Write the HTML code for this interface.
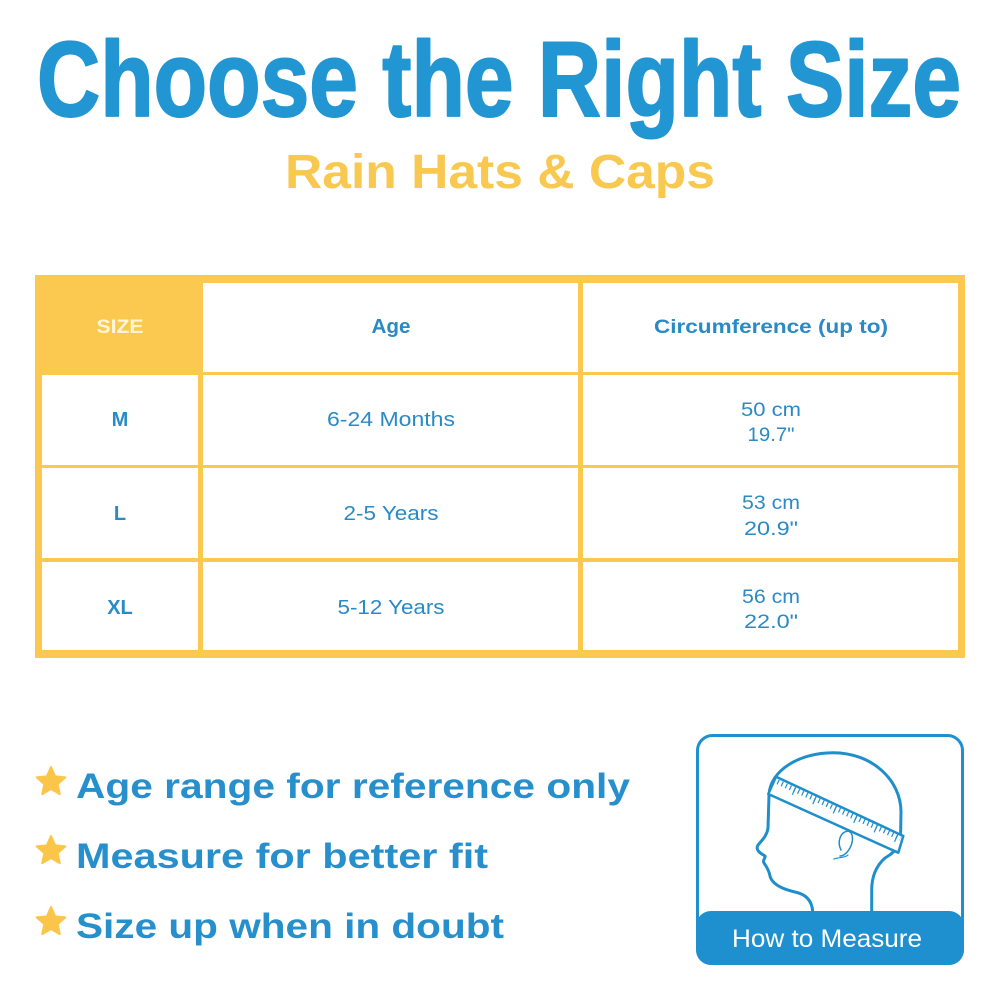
<!DOCTYPE html>
<html>
<head>
<meta charset="utf-8">
<style>
  html, body { margin: 0; padding: 0; background: #ffffff; }
  svg { display: block; }
</style>
</head>
<body>
<svg width="1000" height="1000" viewBox="0 0 1000 1000" xmlns="http://www.w3.org/2000/svg">
  <rect x="0" y="0" width="1000" height="1000" fill="#ffffff"/>

  <!-- Title -->
  <text x="37" y="116" font-family="Liberation Sans, sans-serif" font-weight="bold" font-size="107"
        fill="#2196D3" stroke="#2196D3" stroke-width="2" stroke-linejoin="round"
        textLength="924" lengthAdjust="spacingAndGlyphs">Choose the Right Size</text>

  <!-- Subtitle -->
  <text x="285" y="188" font-family="Liberation Sans, sans-serif" font-weight="bold" font-size="48"
        fill="#F9C850" textLength="430" lengthAdjust="spacingAndGlyphs">Rain Hats &amp; Caps</text>

  <!-- Table -->
  <rect x="35" y="275" width="930" height="383" fill="#FBC94F"/>
  <rect x="203" y="283" width="375" height="89" fill="#ffffff"/>
  <rect x="583" y="283" width="375" height="89" fill="#ffffff"/>
  <rect x="42" y="375" width="156" height="90" fill="#ffffff"/>
  <rect x="203" y="375" width="375" height="90" fill="#ffffff"/>
  <rect x="583" y="375" width="375" height="90" fill="#ffffff"/>
  <rect x="42" y="468" width="156" height="90" fill="#ffffff"/>
  <rect x="203" y="468" width="375" height="90" fill="#ffffff"/>
  <rect x="583" y="468" width="375" height="90" fill="#ffffff"/>
  <rect x="42" y="562" width="156" height="88" fill="#ffffff"/>
  <rect x="203" y="562" width="375" height="88" fill="#ffffff"/>
  <rect x="583" y="562" width="375" height="88" fill="#ffffff"/>

  <g font-family="Liberation Sans, sans-serif" text-anchor="middle">
    <text x="120" y="333" font-weight="bold" font-size="19" fill="#FFF6DA" textLength="47" lengthAdjust="spacingAndGlyphs">SIZE</text>
    <text x="391" y="333" font-weight="bold" font-size="20" fill="#2A8AC5" textLength="39" lengthAdjust="spacingAndGlyphs">Age</text>
    <text x="771" y="333" font-weight="bold" font-size="19" fill="#2A8AC5" textLength="234" lengthAdjust="spacingAndGlyphs">Circumference (up to)</text>

    <text x="120" y="426" font-weight="bold" font-size="20" fill="#2A8AC5">M</text>
    <text x="120" y="520" font-weight="bold" font-size="20" fill="#2A8AC5">L</text>
    <text x="120" y="614" font-weight="bold" font-size="20" fill="#2A8AC5">XL</text>

    <text x="391" y="426" font-size="20" fill="#2A8AC5" textLength="128" lengthAdjust="spacingAndGlyphs">6-24 Months</text>
    <text x="391" y="520" font-size="20" fill="#2A8AC5" textLength="95" lengthAdjust="spacingAndGlyphs">2-5 Years</text>
    <text x="391" y="614" font-size="20" fill="#2A8AC5" textLength="107" lengthAdjust="spacingAndGlyphs">5-12 Years</text>

    <text x="771" y="416" font-size="19" fill="#2A8AC5" textLength="60" lengthAdjust="spacingAndGlyphs">50 cm</text>
    <text x="771" y="441" font-size="19" fill="#2A8AC5" textLength="47" lengthAdjust="spacingAndGlyphs">19.7"</text>
    <text x="771" y="509" font-size="19" fill="#2A8AC5" textLength="58" lengthAdjust="spacingAndGlyphs">53 cm</text>
    <text x="771" y="535" font-size="19" fill="#2A8AC5" textLength="54" lengthAdjust="spacingAndGlyphs">20.9"</text>
    <text x="771" y="603" font-size="19" fill="#2A8AC5" textLength="58" lengthAdjust="spacingAndGlyphs">56 cm</text>
    <text x="771" y="628" font-size="19" fill="#2A8AC5" textLength="54" lengthAdjust="spacingAndGlyphs">22.0"</text>
  </g>

  <!-- Stars -->
  <g fill="#FBC54A" stroke="#FBC54A" stroke-width="2" stroke-linejoin="round">
    <path transform="translate(51,782)" d="M0,-15 L4.11,-5.66 L14.3,-4.65 L6.66,2.16 L8.8,12.1 L0,7 L-8.8,12.1 L-6.66,2.16 L-14.3,-4.65 L-4.11,-5.66 Z"/>
    <path transform="translate(51,851)" d="M0,-15 L4.11,-5.66 L14.3,-4.65 L6.66,2.16 L8.8,12.1 L0,7 L-8.8,12.1 L-6.66,2.16 L-14.3,-4.65 L-4.11,-5.66 Z"/>
    <path transform="translate(51,922)" d="M0,-15 L4.11,-5.66 L14.3,-4.65 L6.66,2.16 L8.8,12.1 L0,7 L-8.8,12.1 L-6.66,2.16 L-14.3,-4.65 L-4.11,-5.66 Z"/>
  </g>

  <!-- Bullet texts -->
  <g font-family="Liberation Sans, sans-serif" font-weight="bold" font-size="35" fill="#2790CC">
    <text x="76" y="798" textLength="554" lengthAdjust="spacingAndGlyphs">Age range for reference only</text>
    <text x="76" y="868" textLength="412" lengthAdjust="spacingAndGlyphs">Measure for better fit</text>
    <text x="76" y="938" textLength="428" lengthAdjust="spacingAndGlyphs">Size up when in doubt</text>
  </g>

  <!-- How to Measure box -->
  <rect x="697.5" y="735.5" width="265" height="228" rx="15" ry="15" fill="#ffffff" stroke="#1E90CF" stroke-width="3"/>
  <rect x="696" y="911" width="268" height="54" rx="15" ry="15" fill="#1E90CF"/>
  <text x="827" y="947" font-family="Liberation Sans, sans-serif" font-size="25" fill="#ffffff" text-anchor="middle" textLength="190" lengthAdjust="spacingAndGlyphs">How to Measure</text>

  <!-- Head -->
  <path d="M 812.7 911.7 C 812 900, 805 894, 795 892 C 782 889, 772 884, 770 876 C 769 870, 766 866, 764 863 C 762 860, 766 858, 765 856 C 760 853, 755 850, 758 845 C 762 840, 767 836, 768 828 L 769 795 C 770 770, 800 752.7, 833 752.7 C 872 752.7, 901 780, 901 812 L 900.5 840 C 898 850, 890 855, 885 858 C 876 866, 871.7 876, 871.7 890 L 871.7 911.7"
        fill="none" stroke="#1F8FCB" stroke-width="3" stroke-linecap="round" stroke-linejoin="round"/>
  <path d="M 841 850 C 837 842, 840 832, 848 831 C 853 832, 854 840, 850 848 C 847 853, 844 856, 840 856" fill="none" stroke="#1F8FCB" stroke-width="1.5" stroke-linecap="round"/>
  <path d="M 834 859 C 840 857, 845 858, 848 855" fill="none" stroke="#1F8FCB" stroke-width="1.2" stroke-linecap="round"/>

  <!-- Tape -->
  <polygon points="776,776.7 903.3,836 898.3,852.7 768.3,794" fill="#ffffff" stroke="#1F8FCB" stroke-width="2.5" stroke-linejoin="round"/>
  <line x1="773.5" y1="780" x2="900.5" y2="838.3" stroke="#1F8FCB" stroke-width="5" stroke-dasharray="1.2 3.3"/>
  <line x1="773" y1="781.5" x2="900" y2="839.8" stroke="#1F8FCB" stroke-width="8" stroke-dasharray="1.2 21.3"/>
</svg>
</body>
</html>
